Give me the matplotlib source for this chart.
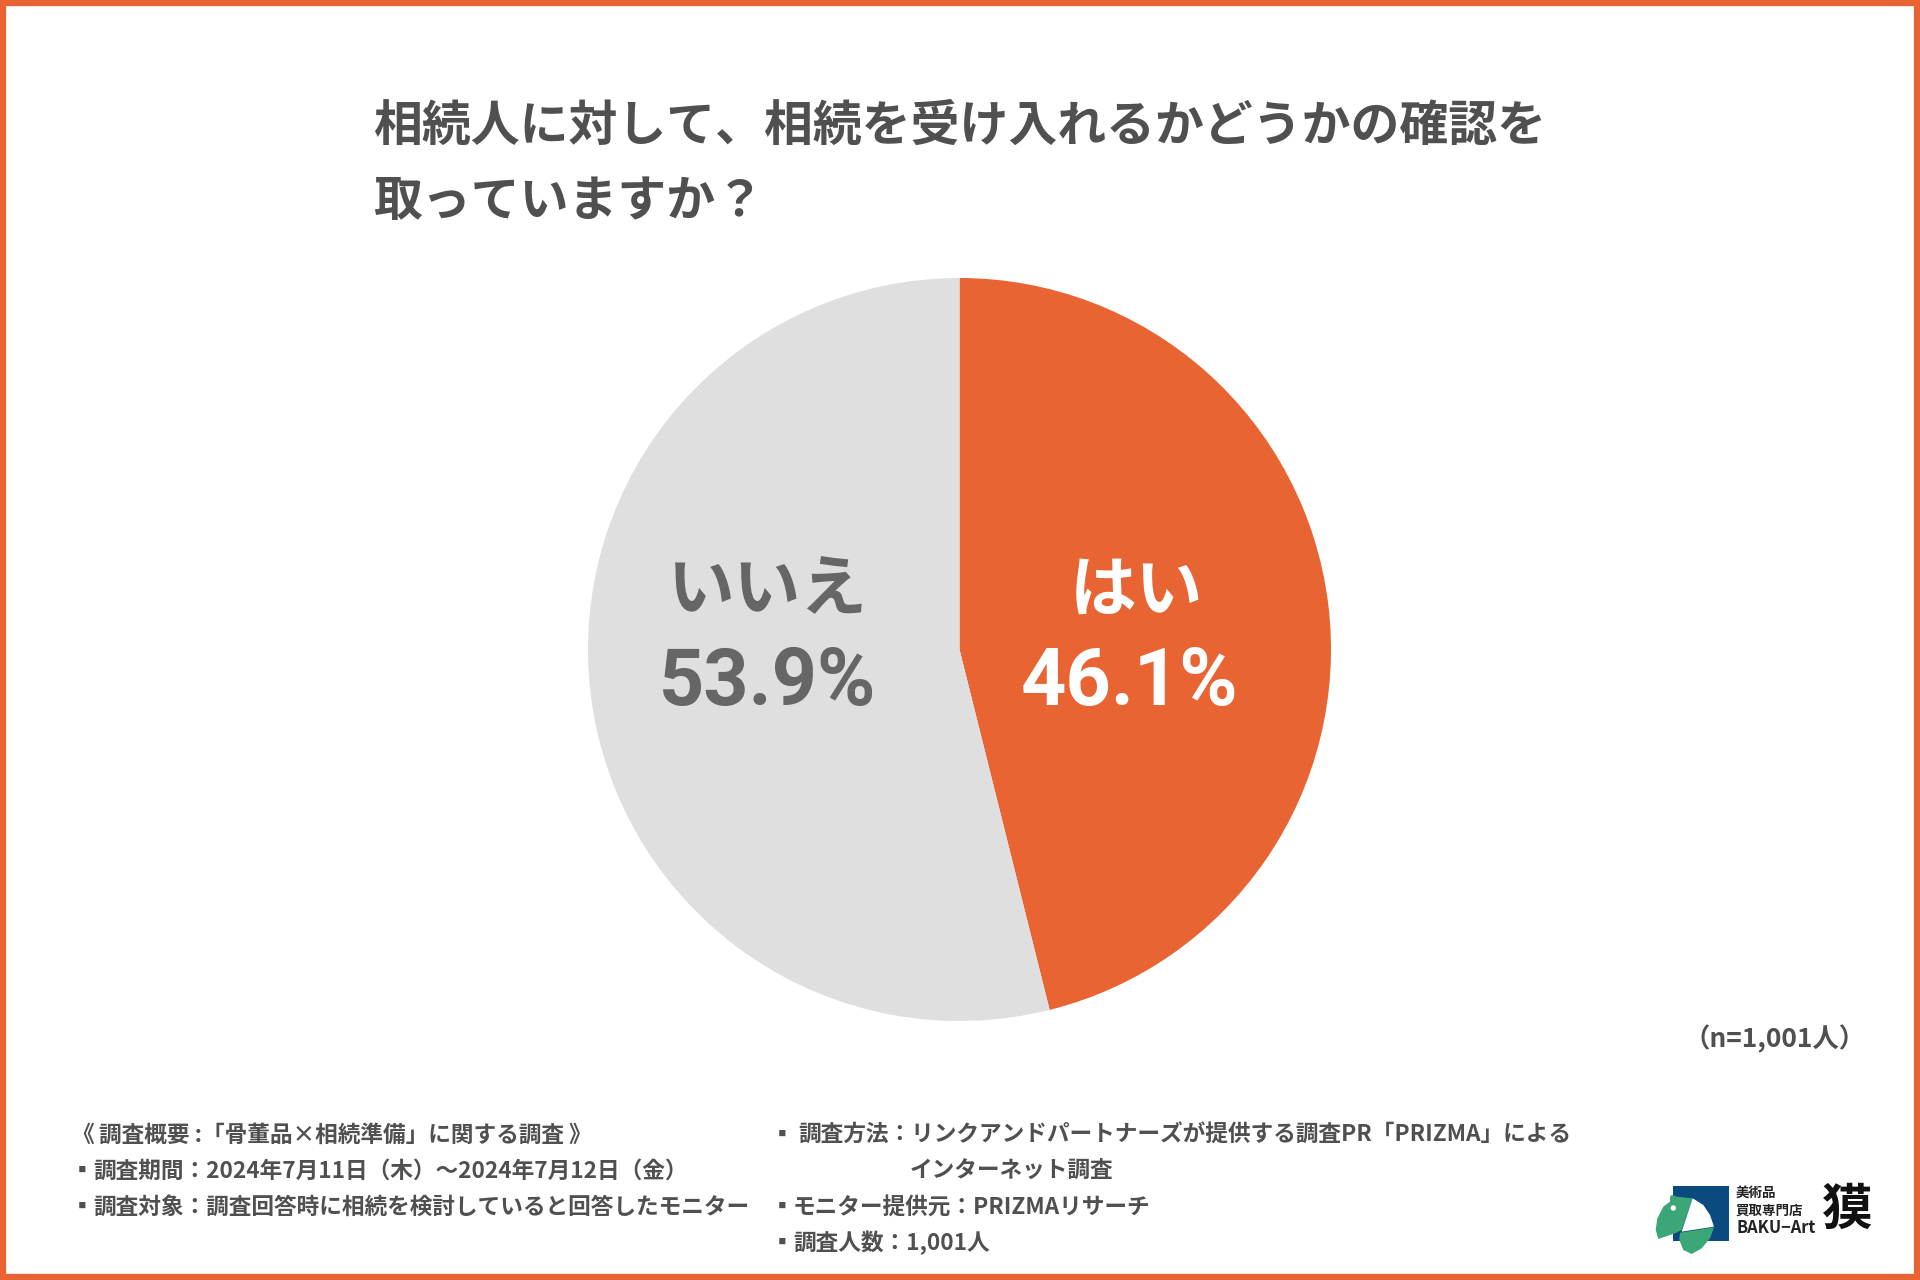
import matplotlib
matplotlib.use("Agg")
import matplotlib.pyplot as plt
from matplotlib.patches import Rectangle, Polygon, Circle

plt.rcParams['font.family'] = ['Noto Sans CJK JP', 'DejaVu Sans']

title_lines = ["相続人に対して、相続を受け入れるかどうかの確認を", "取っていますか？"]
labels = ["はい", "いいえ"]
values = [46.1, 53.9]
value_labels = ["46.1%", "53.9%"]
colors = ["#E86432", "#DFDFDF"]
label_colors = ["#FFFFFF", "#666666"]
sample_note = "（n=1,001人）"

notes_header = "調査概要 :「骨董品×相続準備」に関する調査"
notes_left = [
    "調査期間：2024年7月11日（木）～2024年7月12日（金）",
    "調査対象：調査回答時に相続を検討していると回答したモニター",
]
notes_right = [
    "調査方法：リンクアンドパートナーズが提供する調査PR「PRIZMA」による",
    "モニター提供元：PRIZMAリサーチ",
    "調査人数：1,001人",
]
notes_wrap = "インターネット調査"

W, H = 1920, 1280
TEXT = "#505050"

fig = plt.figure(figsize=(W / 100, H / 100), dpi=100)

# pie goes underneath, the overlay holds all the text
pie_ax = fig.add_axes([588 / W, 1 - 1021 / H, 743 / W, 743 / H], zorder=0)
pie_ax.pie(values, colors=colors, startangle=90, counterclock=False, radius=1.0,
           wedgeprops={"linewidth": 0})
pie_ax.set_xlim(-1, 1)
pie_ax.set_ylim(-1, 1)

bg = fig.add_axes([0, 0, 1, 1], zorder=1)
bg.set_xlim(0, W)
bg.set_ylim(H, 0)
bg.axis("off")
bg.add_patch(Rectangle((3, 3), W - 6, H - 6, fill=False, ec="#E86432", lw=4.5))

for line, y in zip(title_lines, [126, 201]):
    bg.text(373, y, line, fontsize=35.2, fontweight="bold", color=TEXT, ha="left", va="center")

# no condensed font here, Roboto at a smaller size is the closest to the width
val_font = ["Roboto", "DejaVu Sans"]
bg.text(1136, 591, labels[0], fontsize=48, fontweight="bold", color=label_colors[0], ha="center", va="center")
bg.text(1130, 684, value_labels[0], fontsize=57, fontweight="bold", color=label_colors[0], ha="center", va="center",
        family=val_font)
bg.text(768, 591, labels[1], fontsize=48, fontweight="bold", color=label_colors[1], ha="center", va="center")
bg.text(768, 684, value_labels[1], fontsize=57, fontweight="bold", color=label_colors[1], ha="center", va="center",
        family=val_font)

bg.text(1866, 1039, sample_note, fontsize=19, fontweight="bold", color=TEXT, ha="right", va="center")

NOTE_FS = 16.33


def note(x, y, s):
    bg.text(x, y, s, fontsize=NOTE_FS, fontweight="bold", color=TEXT, ha="left", va="center")


note(71, 1135, "《")
note(99, 1135, notes_header)
note(568, 1135, "》")
for line, y in zip(notes_left, [1171, 1207]):
    note(71, y, "▪")
    note(93, y, line)

for x, line, y in zip([798, 793, 793], notes_right, [1135, 1207, 1243]):
    note(771, y, "▪")
    note(x, y, line)
note(910, 1171, notes_wrap)

# logo
bg.add_patch(Rectangle((1673, 1186), 56, 55, fc="#0B4A7F", ec="none"))


def lz(points):
    return [(1620 + px / 3, 1150 + py / 3) for px, py in points]


head = [(150, 140), (155, 135), (170, 140), (218, 145), (185, 240), (165, 250), (115, 267),
        (107, 240), (112, 205), (130, 170), (150, 155)]
shell = [(218, 145), (250, 165), (270, 195), (282, 230), (185, 245)]
belly = [(282, 232), (270, 265), (245, 295), (215, 312), (190, 300), (178, 270), (180, 248)]
bg.add_patch(Polygon(lz(head), fc="#3BA776", ec="none"))
bg.add_patch(Polygon(lz(shell), fc="#FFFFFF", ec="none"))
bg.add_patch(Polygon(lz(belly), fc="#3BA776", ec="none"))
bg.add_patch(Circle((1620 + 160 / 3, 1150 + 174 / 3), 2.7, fc="#FFFFFF", ec="none"))

for line, y, fs in zip(["美術品", "買取専門店", "BAKU−Art"], [1193, 1211, 1228], [9.7, 9.7, 11.8]):
    bg.text(1736, y, line, fontsize=fs, fontweight="bold", color="#222222", ha="left", va="center")
bg.text(1847, 1210, "獏", fontsize=36, fontweight="bold", color="#111111", ha="center", va="center")

fig.savefig("out.png", dpi=100, facecolor="white")
